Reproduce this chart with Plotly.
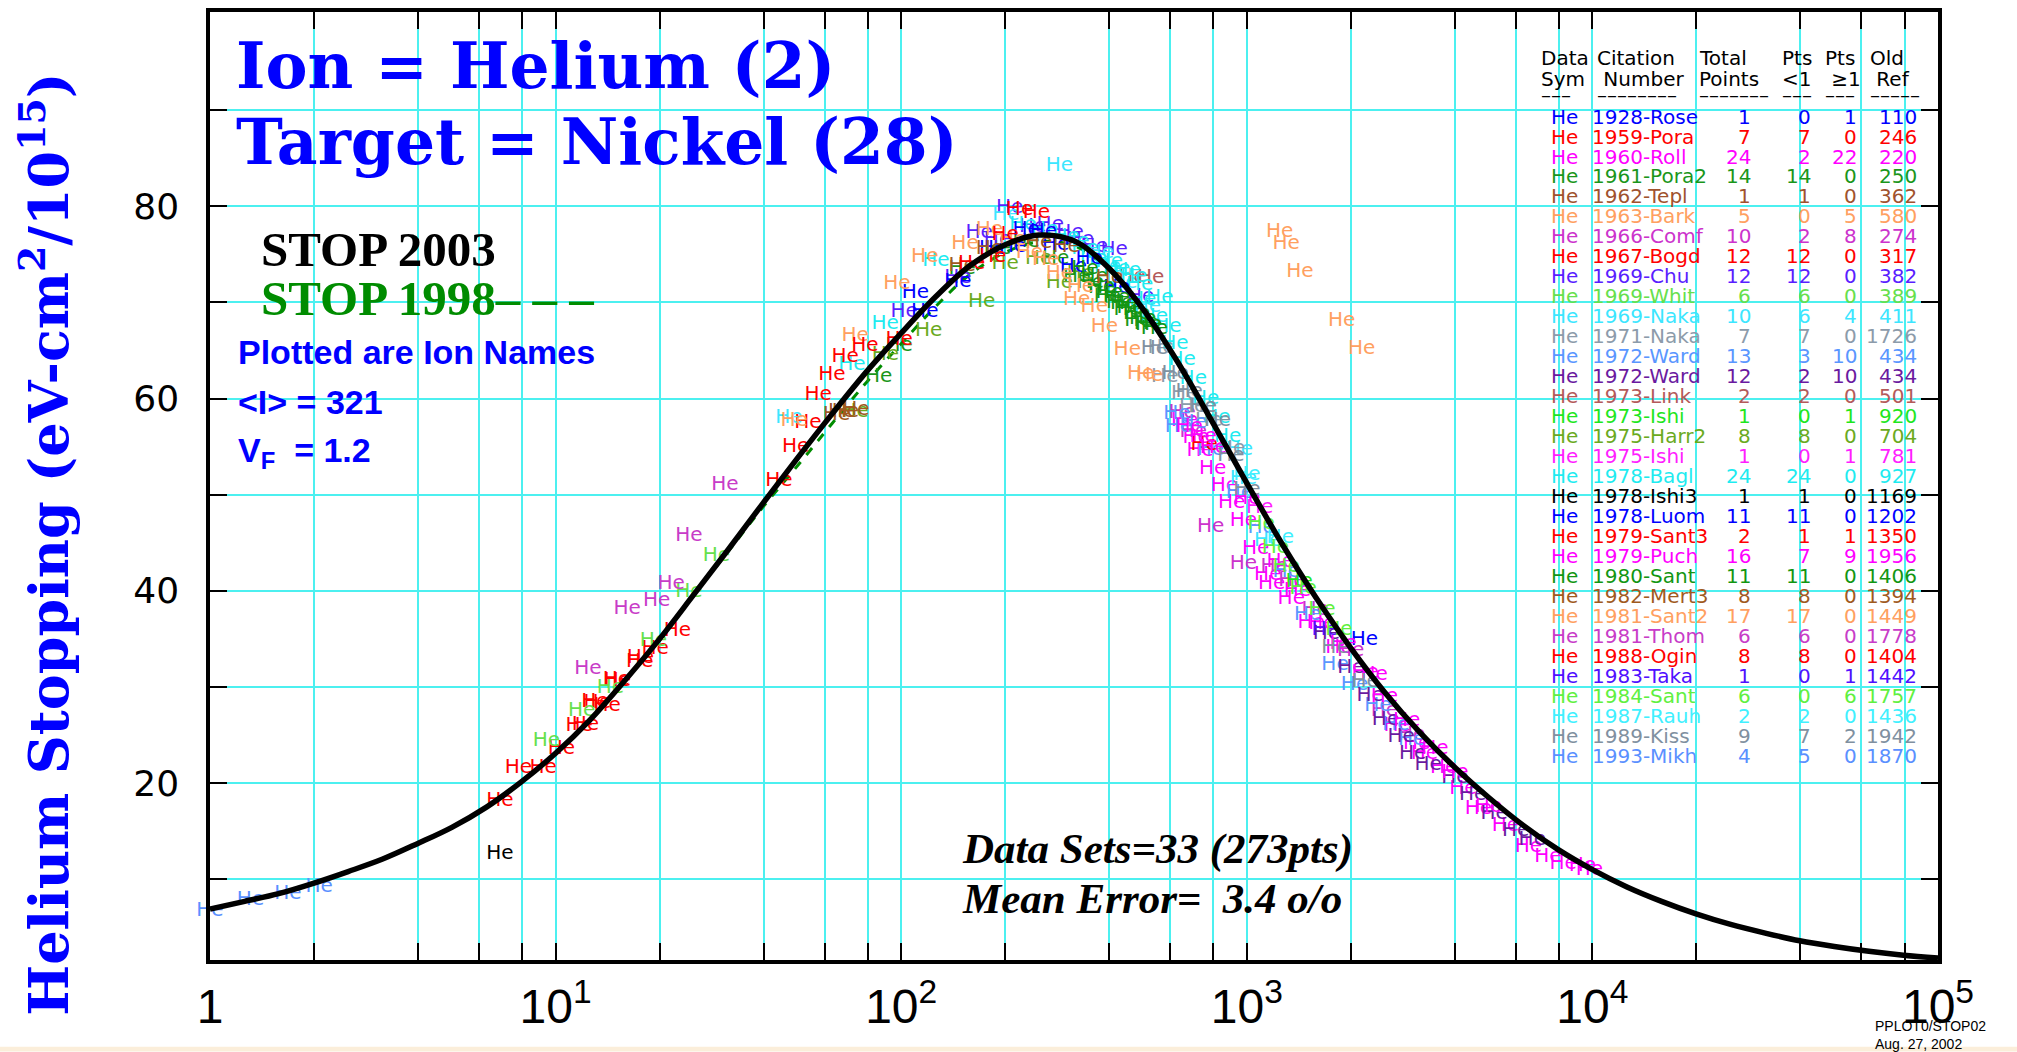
import plotly.graph_objects as go

# ---------------- data ----------------
curve_E = [1, 1.26, 1.58, 2, 2.51, 3.16, 3.98, 5.01, 6.31, 7.94, 10, 12.6, 15.8, 20, 25.1,
           31.6, 39.8, 50.1, 63.1, 79.4, 100, 126, 158, 200, 251, 316, 398, 501, 631, 794,
           1000, 1259, 1585, 1995, 2512, 3162, 3981, 5012, 6310, 7943, 10000, 12590, 15850,
           19950, 25120, 31620, 39810, 50120, 63100, 79430, 100000]
stop2003 = [6.9, 7.7, 8.5, 9.6, 10.8, 12.1, 13.7, 15.4, 17.5, 20.1, 23.1, 26.6, 30.6, 35.0,
            39.6, 44.3, 49.1, 53.8, 58.4, 62.8, 66.8, 70.6, 73.8, 76.0, 77.0, 76.4, 73.6,
            69.3, 63.8, 57.6, 51.2, 45.0, 39.3, 34.1, 29.4, 25.3, 21.7, 18.5, 15.6, 13.1,
            11.0, 9.2, 7.7, 6.4, 5.3, 4.4, 3.6, 3.0, 2.5, 2.1, 1.8]
stop1998 = [6.9, 7.7, 8.5, 9.6, 10.8, 12.1, 13.7, 15.4, 17.5, 20.1, 23.1, 26.6, 30.6, 35.0,
            39.6, 44.1, 48.7, 53.0, 57.4, 61.7, 65.7, 69.6, 72.9, 75.2, 76.3, 75.9, 73.4,
            69.3, 63.8, 57.6, 51.2, 45.0, 39.3, 34.1, 29.4, 25.3, 21.7, 18.5, 15.6, 13.1,
            11.0, 9.2, 7.7, 6.4, 5.3, 4.4, 3.6, 3.0, 2.5, 2.1, 1.8]

ds_cite = ["1928-Rose", "1959-Pora", "1960-Roll", "1961-Pora2", "1962-Tepl", "1963-Bark",
           "1966-Comf", "1967-Bogd", "1969-Chu", "1969-Whit", "1969-Naka", "1971-Naka",
           "1972-Ward", "1972-Ward", "1973-Link", "1973-Ishi", "1975-Harr2", "1975-Ishi",
           "1978-Bagl", "1978-Ishi3", "1978-Luom", "1979-Sant3", "1979-Puch", "1980-Sant",
           "1982-Mert3", "1981-Sant2", "1981-Thom", "1988-Ogin", "1983-Taka", "1984-Sant",
           "1987-Rauh", "1989-Kiss", "1993-Mikh"]
ds_total = [1, 7, 24, 14, 1, 5, 10, 12, 12, 6, 10, 7, 13, 12, 2, 1, 8, 1, 24, 1, 11, 2, 16,
            11, 8, 17, 6, 8, 1, 6, 2, 9, 4]
ds_lt1 = [0, 7, 2, 14, 1, 0, 2, 12, 12, 6, 6, 7, 3, 2, 2, 0, 8, 0, 24, 1, 11, 1, 7, 11, 8,
          17, 6, 8, 0, 0, 2, 7, 5]
ds_ge1 = [1, 0, 22, 0, 0, 5, 8, 0, 0, 0, 4, 0, 10, 10, 0, 1, 0, 1, 0, 0, 0, 1, 9, 0, 0, 0,
          0, 0, 1, 6, 0, 2, 0]
ds_ref = [110, 246, 220, 250, 362, 580, 274, 317, 382, 389, 411, 1726, 434, 434, 501, 920,
          704, 781, 927, 1169, 1202, 1350, 1956, 1406, 1394, 1449, 1778, 1404, 1442, 1757,
          1436, 1942, 1870]
ds_color = ["#0000FF", "#FF0000", "#FF00FF", "#1A961A", "#A0522D", "#FFA060", "#CC33CC",
            "#FF0000", "#5A1EFF", "#66E04C", "#3CE6FF", "#8C9BAA", "#5A96FF", "#6A1AA0",
            "#B45A5A", "#1EE61E", "#6AAA1E", "#FF1EFF", "#1EEBF0", "#000000", "#0000FF",
            "#FF0000", "#FF00FF", "#129612", "#A05A1E", "#FFA060", "#C83CC8", "#FF0000",
            "#5010FF", "#60F040", "#40F0FF", "#8090A0", "#5A90FF"]

pts_E = [
    [2190],
    [9.2, 10.4, 11.7, 13.2, 15.1, 17.5, 19.4],
    [661, 714, 733, 797, 862, 904, 978, 1060, 1150, 1180, 1345, 1535, 1846, 2335, 2725, 3100,
     3265, 3710, 4220, 4680, 5600, 6530, 7430, 8230],
    [86, 98.6, 150, 190, 230, 280, 322, 353, 380, 395, 429, 451, 484, 516],
    [67.3],
    [1245, 1300, 1425, 1882, 2151],
    [650, 700, 786, 978, 1200, 1350, 1576, 1997, 2500, 3000],
    [6.9, 7.8, 12.2, 13.0, 14.1, 15.0, 17.6, 22.5, 44.3, 49.5, 53.7, 57.5],
    [102, 168, 190, 206, 240, 270, 308, 330, 362, 413, 493, 146],
    [9.4, 11.9, 14.4, 19.2, 24.3, 29.2],
    [47.3, 201, 287, 377, 395, 441, 516, 952, 978, 1150],
    [565, 579, 661, 697, 748, 776, 904],
    [628, 700, 785, 952, 1100, 1300, 1500, 1800, 2050, 2395, 2700, 3000, 634],
    [1700, 2000, 2275, 2520, 2795, 3020, 3350, 4000, 4500, 5200, 6000, 6700],
    [466, 527],
    [1418],
    [73.6, 90, 120, 171, 200, 250, 287, 330],
    [1089],
    [72, 89.8, 126, 225, 260, 300, 320, 340, 360, 400, 420, 451, 471, 490, 500, 540, 560, 591,
     619, 650, 700, 760, 820, 880],
    [6.9],
    [110, 117, 146, 184, 210, 230, 258, 280, 315, 350, 420],
    [220, 753],
    [681, 748, 800, 1000, 1250, 1400, 1650, 1900, 2200, 2500, 2900, 3500, 4000, 5000, 9350, 9800],
    [340, 362, 380, 400, 420, 440, 460, 480, 500, 520, 540],
    [65, 69, 74, 150, 180, 250, 300, 400],
    [49, 73.6, 97.2, 117, 153, 180, 210, 235, 262, 287, 322, 330, 362, 387, 451, 493, 523],
    [12.4, 16.1, 19.6, 21.6, 24.3, 30.9],
    [63, 68.8, 78.5, 98.6, 160, 184, 200, 246],
    [1685],
    [1100, 1210, 1300, 1456, 1650, 1846],
    [1000, 1250],
    [540, 620, 681, 748, 822, 900, 1000, 1800, 2200],
    [1.0, 1.31, 1.68, 2.07],
]
pts_S = [
    [34.9],
    [21.6, 23.5, 25.9, 28.3, 30.6, 32.6, 33.9],
    [57.7, 55.9, 54.5, 52.7, 50.9, 49.1, 47.3, 44.3, 41.6, 40.7, 39.1, 36.6, 34.1, 31.2, 25.9,
     24.1, 23.0, 21.6, 19.4, 17.3, 15.5, 13.4, 12.3, 11.6],
    [62.2, 65.5, 73.5, 75.5, 76.3, 74.5, 72.6, 72.0, 71.6, 70.6, 69.9, 69.2, 68.1, 67.8],
    [58.6],
    [77.3, 76.1, 73.2, 68.1, 65.2],
    [58.5, 56.5, 46.6, 42.8, 42.5, 41.0, 38.0, 33.7, 27.5, 25.0],
    [18.1, 21.6, 26.0, 28.45, 28.0, 30.7, 33.0, 35.8, 51.4, 55.0, 57.5, 60.4],
    [69.0, 77.2, 76.5, 79.8, 77.8, 78.0, 77.2, 76.5, 75.8, 75.4, 70.6, 72.5],
    [24.4, 27.5, 29.9, 34.8, 39.9, 43.6],
    [58.0, 79.1, 84.2, 75.1, 73.7, 72.0, 69.5, 54.6, 51.6, 45.2],
    [65.3, 62.2, 60.5, 59.1, 59.1, 57.7, 54.8],
    [58.4, 57.5, 54.6, 50.2, 46.5, 42.0, 37.5, 32.3, 30.2, 28.0, 26.0, 24.5, 57.0],
    [35.5, 32.0, 29.1, 26.6, 24.8, 23.0, 21.9, 20.5, 18.8, 16.8, 15.0, 14.1],
    [72.6, 72.5],
    [40.9],
    [58.6, 64.5, 67.0, 70.0, 74.0, 74.5, 72.0, 73.0],
    [48.6],
    [63.5, 67.8, 74.3, 78.0, 77.5, 76.8, 76.3, 75.5, 74.5, 74.2, 73.5, 73.3, 72.6, 71.8, 70.2,
     68.5, 70.5, 67.4, 65.7, 64.0, 62.0, 60.0, 58.0, 56.0],
    [12.6],
    [71.0, 69.0, 72.1, 75.5, 75.8, 77.5, 77.3, 76.0, 73.7, 74.5, 71.5],
    [79.6, 55.2],
    [57.0, 56.0, 54.9, 49.5, 43.0, 40.0, 36.5, 34.5, 31.5, 29.0, 26.5, 23.5, 21.0, 17.5, 11.4, 11.0],
    [73.5, 72.6, 71.5, 71.0, 70.5, 69.8, 69.4, 68.8, 68.3, 67.6, 67.2],
    [58.3, 58.6, 58.8, 73.8, 75.5, 76.2, 75.8, 72.5],
    [57.7, 66.5, 71.9, 74.7, 76.1, 77.5, 76.5, 75.1, 74.4, 73.0, 70.2, 71.6, 69.5, 67.4, 65.0,
     62.6, 62.3],
    [31.85, 38.1, 38.9, 40.7, 45.7, 51.0],
    [62.4, 64.3, 65.5, 66.1, 74.0, 74.7, 77.0, 79.3],
    [35.9],
    [47.0, 44.4, 42.5, 40.2, 38.0, 35.9],
    [52.0, 45.5],
    [65.2, 62.5, 60.7, 59.1, 57.7, 54.0, 50.5, 34.0, 30.5],
    [6.7, 7.8, 8.5, 9.2],
]

x_major = [1, 10, 100, 1000, 10000, 100000]
x_major_text = ["1", "10<sup>1</sup>", "10<sup>2</sup>", "10<sup>3</sup>", "10<sup>4</sup>",
                "10<sup>5</sup>"]
x_minor = [m * 10 ** d for d in range(5) for m in (2, 4, 6, 8)]
y_major = [20, 40, 60, 80]
y_minor = [10, 30, 50, 70, 90]

table_head1 = ["Data", "Citation", "Total", "Pts", "Pts", "Old"]
table_head2 = ["Sym", " Number", "Points", "&lt;1", " ≥1", " Ref"]
table_head3 = ["–––", "––––––––", "–––––––", "–––", "–––", "–––––"]

# ---------------- figure ----------------
W, H = 2017, 1052
L, R, T, B = 210, 1938, 8, 960
GRID = "#4CF0F0"


def xp(px):
    return (px - L) / (R - L)


def yp(py):
    return (B - py) / (B - T)


fig = go.Figure()

fig.add_trace(go.Scatter(x=curve_E, y=stop1998, mode="lines",
                         line=dict(color="#008C00", width=3, dash="dash", shape="spline"),
                         hoverinfo="skip", showlegend=False))

for i in range(len(ds_cite)):
    fig.add_trace(go.Scatter(x=pts_E[i], y=pts_S[i], mode="text", text=["He"] * len(pts_E[i]),
                             textposition="middle center",
                             textfont=dict(family="DejaVu Sans", size=20, color=ds_color[i]),
                             cliponaxis=False, hoverinfo="skip", showlegend=False))

fig.add_trace(go.Scatter(x=curve_E, y=stop2003, mode="lines",
                         line=dict(color="black", width=5.5, shape="spline"),
                         hoverinfo="skip", showlegend=False))

ann = []


def add(px, py, text, size, color="black", family="DejaVu Sans", xanchor="left", angle=0):
    ann.append(dict(x=xp(px), y=yp(py), xref="paper", yref="paper", text=text,
                    showarrow=False, xanchor=xanchor, yanchor="middle", textangle=angle,
                    font=dict(family=family, size=size, color=color)))


# titles
add(234, 62, "<b>Ion = Helium (2)</b>", 63, "#0000FF", "DejaVu Serif")
add(234, 139, "<b>Target = Nickel (28)</b>", 63, "#0000FF", "DejaVu Serif")
add(259, 246, "<b>STOP 2003</b>", 49, "black", "Liberation Serif")
add(259, 296, "<b>STOP 1998– – –</b>", 49, "#008C00", "Liberation Serif")
add(236, 349, "<b>Plotted are Ion Names</b>", 34, "#0000FF", "Liberation Sans")
add(236, 400, "<b>&lt;I&gt; = 321</b>", 34, "#0000FF", "Liberation Sans")
add(236, 450, "<b>V<sub>F</sub>  = 1.2</b>", 34, "#0000FF", "Liberation Sans")
add(960, 849, "<b><i>Data Sets=33 (273pts)</i></b>", 43, "black", "Liberation Serif")
add(960, 898, "<b><i>Mean Error=  3.4 o/o</i></b>", 43, "black", "Liberation Serif")
add(46, 543, "<b>Helium Stopping (eV-cm<sup>2</sup>/10<sup>15</sup>)</b>", 54, "#0000FF",
    "DejaVu Serif", xanchor="center", angle=-90)
add(1873, 1026, "PPLOT0/STOP02", 14, "black", "Liberation Sans")
add(1873, 1044, "Aug. 27, 2002", 14, "black", "Liberation Sans")

# table headers
TF = "DejaVu Sans"
FS = 20
hdr_x = [1539, 1595, 1697, 1780, 1823, 1868]
for k in range(len(hdr_x)):
    add(hdr_x[k], 54, table_head1[k], FS, "black", TF)
    add(hdr_x[k], 75, table_head2[k], FS, "black", TF)
    add(hdr_x[k], 91, table_head3[k], FS, "black", TF)

for i in range(len(ds_cite)):
    ry = 113 + 20.06 * i
    c = ds_color[i]
    add(1549, ry, "He", FS, c, TF)
    add(1590, ry, ds_cite[i], FS, c, TF)
    add(1753, ry, str(ds_total[i]), FS, c, TF, xanchor="right")
    add(1813, ry, str(ds_lt1[i]), FS, c, TF, xanchor="right")
    add(1859, ry, str(ds_ge1[i]), FS, c, TF, xanchor="right")
    add(1919, ry, str(ds_ref[i]), FS, c, TF, xanchor="right")

fig.update_layout(
    width=W, height=H, autosize=False,
    margin=dict(l=L, r=W - R, t=T, b=H - B, pad=0),
    paper_bgcolor="white", plot_bgcolor="white",
    showlegend=False,
    annotations=ann,
    shapes=[dict(type="rect", xref="paper", yref="paper", x0=xp(0), x1=xp(W),
                 y0=yp(H), y1=yp(1047), fillcolor="#FBEEDA", line=dict(width=0),
                 layer="above")],
    xaxis=dict(type="log", range=[0, 5], tickmode="array", tickvals=x_major,
               ticktext=x_major_text, ticks="inside", ticklen=17, tickwidth=1.5,
               tickcolor="black", showgrid=True, gridcolor=GRID, gridwidth=2,
               showline=True, linecolor="black", linewidth=3.5, mirror="allticks",
               zeroline=False, ticklabelstandoff=2,
               tickfont=dict(family="Liberation Sans", size=48, color="black"),
               minor=dict(tickmode="array", tickvals=x_minor, ticks="inside", ticklen=17,
                          tickwidth=1.5, tickcolor="black", showgrid=True,
                          gridcolor=GRID, gridwidth=2)),
    yaxis=dict(range=[1.6, 100.2], tickmode="array", tickvals=y_major,
               ticktext=[str(v) for v in y_major], ticks="inside", ticklen=17,
               tickwidth=1.5, tickcolor="black", showgrid=True, gridcolor=GRID,
               gridwidth=2, showline=True, linecolor="black", linewidth=3.5,
               mirror="allticks", zeroline=False, ticklabelstandoff=20,
               tickfont=dict(family="DejaVu Sans", size=36, color="black"),
               minor=dict(tickmode="array", tickvals=y_minor, ticks="inside", ticklen=17,
                          tickwidth=1.5, tickcolor="black", showgrid=True,
                          gridcolor=GRID, gridwidth=2)),
)

fig.write_html("out.html", include_plotlyjs=True, full_html=True,
               config={"displayModeBar": False},
               post_script="document.body.style.margin='0';document.body.style.overflow='hidden';")
